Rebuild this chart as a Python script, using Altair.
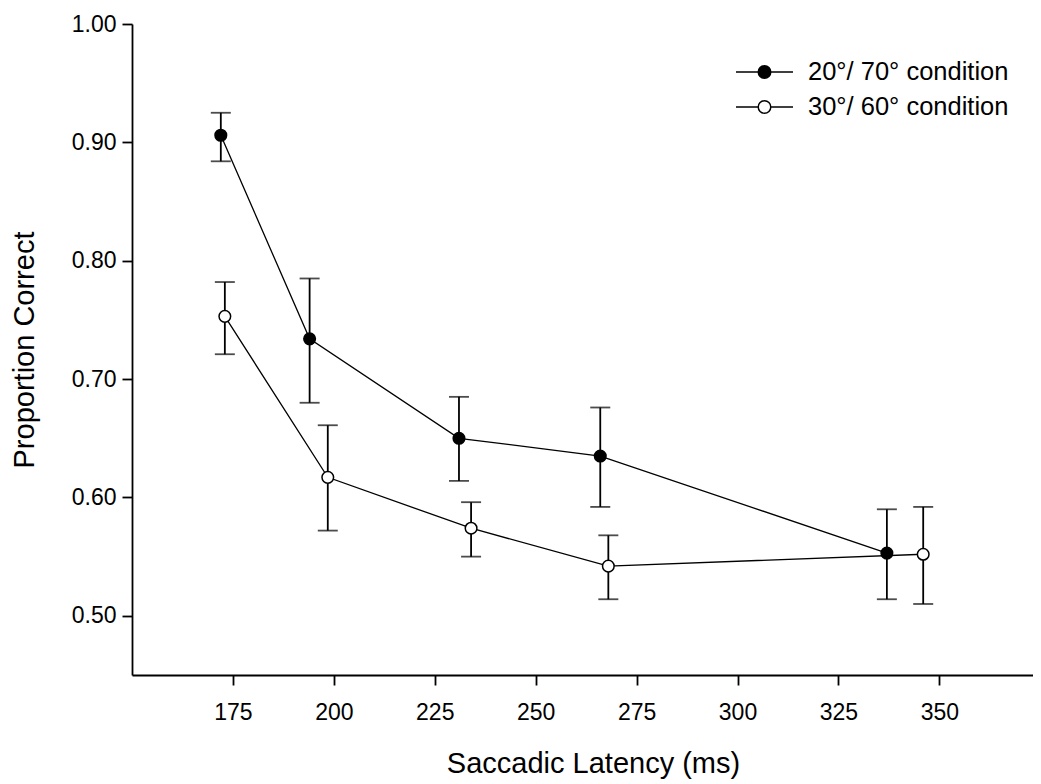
import altair as alt
import pandas as pd

# ---- data ----
series_names = ["20°/ 70° condition", "30°/ 60° condition"]

latency_a = [172, 194, 231, 266, 337]
prop_a = [0.906, 0.734, 0.650, 0.635, 0.553]
hi_a = [0.925, 0.785, 0.685, 0.676, 0.590]
lo_a = [0.884, 0.680, 0.614, 0.592, 0.514]

latency_b = [173, 198.5, 234, 268, 346]
prop_b = [0.753, 0.617, 0.574, 0.542, 0.552]
hi_b = [0.782, 0.661, 0.596, 0.568, 0.592]
lo_b = [0.721, 0.572, 0.550, 0.514, 0.510]

x_ticks = [175, 200, 225, 250, 275, 300, 325, 350]
y_ticks = [0.5, 0.6, 0.7, 0.8, 0.9, 1.0]

rows = []
for name, xs, ys, his, los in [
    (series_names[0], latency_a, prop_a, hi_a, lo_a),
    (series_names[1], latency_b, prop_b, hi_b, lo_b),
]:
    for x, y, h, l in zip(xs, ys, his, los):
        rows.append({"cond": name, "latency": x, "prop": y, "hi": h, "lo": l})
df = pd.DataFrame(rows)

FONT = "Liberation Sans"

xscale = alt.Scale(domain=[150, 373.2], nice=False, zero=False)
yscale = alt.Scale(domain=[0.45, 1.0], nice=False, zero=False)

x_axis = alt.Axis(
    values=x_ticks,
    title="Saccadic Latency (ms)",
    titleX=461,
    titleY=97,
    titleAlign="center",
    titleBaseline="alphabetic",
    labelPadding=16,
)
y_axis = alt.Axis(
    values=y_ticks,
    format=".2f",
    title="Proportion Correct",
    titleX=-98.7,
    titleY=325.5,
    titleAngle=270,
    titleAlign="center",
    titleBaseline="alphabetic",
    labelPadding=6,
)

X = alt.X("latency:Q", scale=xscale, axis=x_axis)


def Y(field):
    return alt.Y(f"{field}:Q", scale=yscale, axis=y_axis)


base = alt.Chart(df)

lines = base.mark_line(color="black", strokeWidth=1.3).encode(
    x=X, y=Y("prop"), detail="cond:N", order="latency:Q"
)

bars = base.mark_rule(color="black", strokeWidth=1.8).encode(
    x=X, y=Y("lo"), y2="hi:Q"
)
caps_hi = base.mark_tick(orient="horizontal", color="black", size=20, thickness=1.8).encode(
    x=X, y=Y("hi")
)
caps_lo = base.mark_tick(orient="horizontal", color="black", size=20, thickness=1.8).encode(
    x=X, y=Y("lo")
)

# legend glyph: a line segment through a circle (path drawn wider than the nominal symbol box)
legend_symbol = (
    "M-2,0L-0.44,0M0.44,0L2,0"
    "M-0.44,0A0.44,0.44,0,1,1,0.44,0A0.44,0.44,0,1,1,-0.44,0Z"
)

points = base.mark_point(
    shape="circle", filled=True, size=135, stroke="black", strokeWidth=1.5, opacity=1
).encode(
    x=X,
    y=Y("prop"),
    fill=alt.Fill(
        "cond:N",
        scale=alt.Scale(domain=series_names, range=["black", "white"]),
        legend=alt.Legend(
            title=None,
            orient="none",
            legendX=617.5,
            legendY=33,
            symbolType=legend_symbol,
            symbolSize=812,
            symbolStrokeColor="black",
            symbolStrokeWidth=1.5,
            symbolOpacity=1,
            labelFont=FONT,
            labelFontSize=25.5,
            labelColor="black",
            labelOffset=28.5,
            rowPadding=6,
            labelLimit=0,
        ),
    ),
)

chart = (
    alt.layer(lines, bars, caps_hi, caps_lo, points)
    .properties(
        width=901,
        height=651,
        padding={"left": 124, "top": 16, "right": 0, "bottom": 108},
        autosize=alt.AutoSizeParams(type="none"),
        background="white",
    )
    .configure_view(stroke=None)
    .configure_axis(
        grid=False,
        domainColor="black",
        domainWidth=1.8,
        tickColor="black",
        tickWidth=1.8,
        tickSize=10,
        labelFont=FONT,
        labelFontSize=23,
        labelColor="black",
        titleFont=FONT,
        titleFontSize=29,
        titleFontWeight="normal",
        titleColor="black",
    )
)

chart.save("out.html", embed_options={"renderer": "svg", "actions": False})
